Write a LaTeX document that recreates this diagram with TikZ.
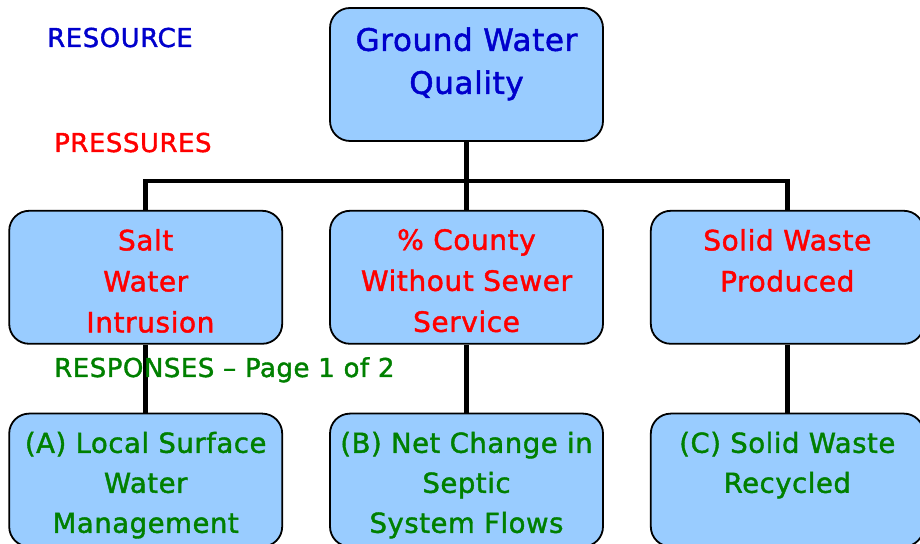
\documentclass[tikz,border=0pt]{standalone}
\usepackage{fontspec}
\setmainfont{DejaVu Sans}[RawFeature={embolden=1.5}, LetterSpace=2]
\usepackage{tikz}
\usetikzlibrary{positioning}
\definecolor{boxFill}{HTML}{99CCFF}
\definecolor{resBlue}{HTML}{0000CC}
\definecolor{presRed}{HTML}{FF0000}
\definecolor{respGreen}{HTML}{008000}
\tikzset{
  box/.style={draw=black, line width=1.8pt, rounded corners=20pt, fill=boxFill, minimum width=273pt, minimum height=133pt, inner sep=0pt},
  boxText/.style={align=center, inner sep=0pt},
  topText/.style={boxText, text=resBlue, font=\fontsize{31}{43}\selectfont},
  midText/.style={boxText, text=presRed, font=\fontsize{28}{41}\selectfont},
  lowText/.style={boxText, text=respGreen, font=\fontsize{27.5}{40}\selectfont},
  tierLabel/.style={anchor=base west, inner sep=0pt, font=\fontsize{26}{30}\selectfont},
  link/.style={line width=4.5pt}
}

\begin{document}
\begin{tikzpicture}[node distance=68pt and 46pt]
  \useasboundingbox (0,0) rectangle (920pt,543pt);
  % boxes
  \node[box] (gwq) at (466.5pt,468.5pt) {};
  \node[box, below=of gwq] (county) {};
  \node[box, left=of county] (salt) {};
  \node[box, right=of county] (waste) {};
  \node[box, below=of salt] (surface) {};
  \node[box, below=of county] (septic) {};
  \node[box, below=of waste] (recycled) {};

  % connectors
  \coordinate[below=39pt of gwq.south] (split);
  \draw[link] (gwq.south) -- (county.north);
  \draw[link] (salt.north) |- (split) -| (waste.north);
  \draw[link] (salt.south) -- (surface.north);
  \draw[link] (county.south) -- (septic.north);
  \draw[link] (waste.south) -- (recycled.north);

  % box texts
  \node[topText, below=20pt of gwq.north] (gwqText) {Ground Water\\Quality};
  \node[midText, below=19pt of salt.north] (saltText) {Salt\\Water\\~Intrusion};
  \node[midText, below=19pt of county.north] (countyText) {\% County\\Without Sewer\\Service};
  \node[midText, below=19pt of waste.north] (wasteText) {Solid Waste\\Produced};
  \node[lowText, below=19pt of surface.north] (surfaceText) {(A) Local Surface\\Water\\Management};
  \node[lowText, below=19pt of septic.north] (septicText) {(B) Net Change in\\Septic\\System Flows};
  \node[lowText, below=19pt of recycled.north] (recycledText) {(C) Solid Waste\\Recycled};

  % tier labels
  \node[tierLabel, text=resBlue] (resourceLbl) at (47pt,496pt) {RESOURCE};
  \node[tierLabel, text=presRed] (pressuresLbl) at (54pt,391pt) {PRESSURES};
  \node[tierLabel, text=respGreen] (responsesLbl) at (54pt,166pt) {RESPONSES – Page 1 of 2};
\end{tikzpicture}
\end{document}
